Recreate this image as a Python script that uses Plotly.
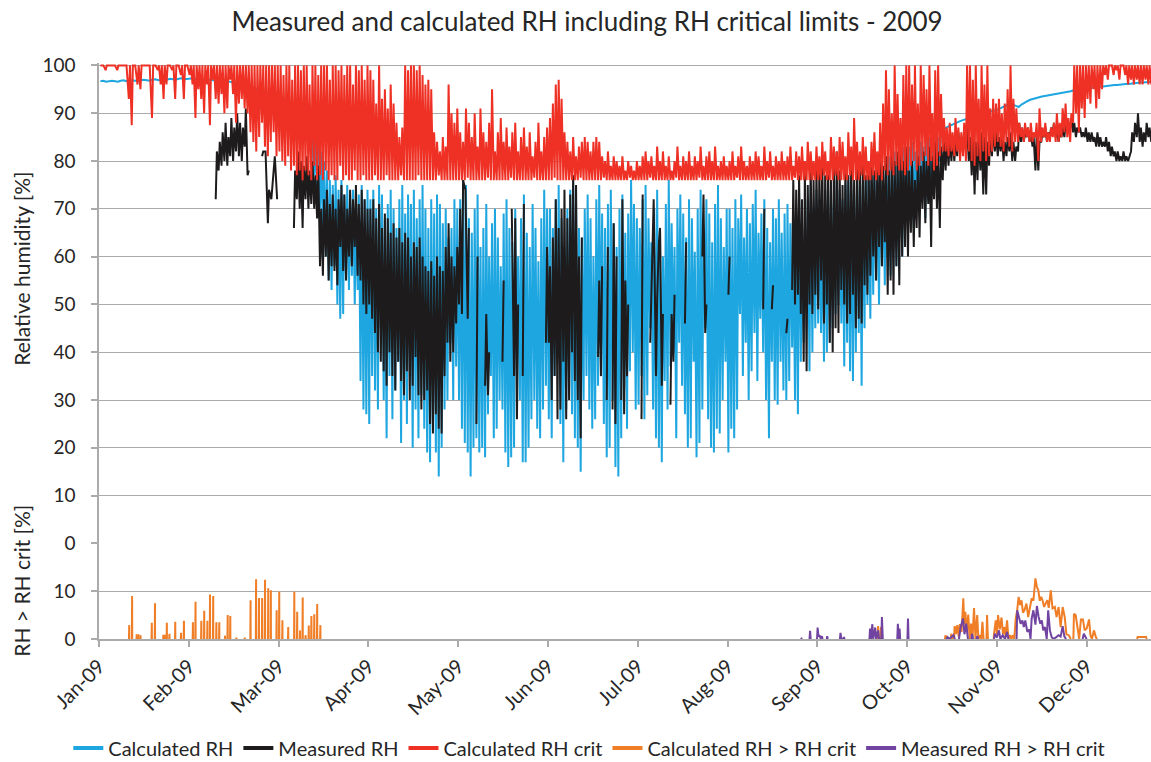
import datetime as dt
import plotly.graph_objects as go

YEAR_START = dt.datetime(2009, 1, 1)

# Tick labels: the original axis places one label every 31 days of data
month_labels = ["Jan-09", "Feb-09", "Mar-09", "Apr-09", "May-09", "Jun-09",
                "Jul-09", "Aug-09", "Sep-09", "Oct-09", "Nov-09", "Dec-09"]
tick_day_index = [0, 31, 62, 93, 124, 155, 186, 217, 248, 279, 310, 341]

# ---------------- Calculated RH (daily high / daily low, %) ----------------
calc_rh_high = [
    96.7,96.8,96.6,96.7,96.8,96.7,96.6,96.8,96.9,96.7,96.8,96.9,96.8,96.7,96.9,97.0,96.9,96.8,97.0,97.1,96.9,97.0,97.1,97.0,97.2,97.1,97.0,97.2,97.3,97.1,97.2,
    97.2,97.3,97.1,97.2,97.0,97.1,96.9,97.0,96.9,96.8,96.9,96.7,96.6,96.7,96.5,96.4,96.3,96.2,96.0,95.9,95.7,95.5,95.3,95.1,94.8,94.6,94.3,94.0,93.7,93.3,93.0,
    92.7,92.3,92.0,91.8,91.5,91.0,90.6,90.2,89.6,88,87,86,85,84,82,80,78,76,75,77,74,76,73,75,72,74,70,73,75,72,74,
    72,74,70,75,73,68,71,74,70,66,72,75,69,73,71,74,68,72,75,70,66,72,69,73,71,67,70,64,66,72,70,
    72,76,75,68,65,70,73,62,66,71,60,67,70,64,58,69,72,66,63,70,60,68,73,65,62,71,66,59,68,74,70,
    70,66,72,75,68,62,70,74,76,71,66,64,70,73,68,60,72,75,69,66,71,74,67,62,70,73,65,69,76,71,68,
    66,72,75,68,63,70,74,65,60,71,76,67,62,70,73,69,64,72,68,61,70,74,66,72,69,63,71,75,68,62,70,
    70,66,72,68,73,64,70,67,71,74,65,69,72,66,63,70,68,72,65,69,71,67,64,70,73,68,66,72,75,70,74,
    72,70,74,73,75,71,76,74,72,75,77,74,73,76,78,75,77,79,76,78,80,78,77,80,81,79,82,80,81,83,82,
    83,84,82,85,84,83,86,85,84,86,85,86,86.5,87,87.3,87.6,87.9,88.1,88.4,88.6,88.8,89.0,89.2,89.4,89.6,89.8,89.9,90.1,90.3,90.5,90.6,
    90.8,91.1,91.4,91.7,92.0,91.8,91.5,91.3,91.8,92.2,92.5,92.8,93.0,93.2,93.4,93.5,93.6,93.7,93.8,94.0,94.1,94.2,94.3,94.4,94.5,94.6,94.8,94.9,95.0,95.1,95.1,
    95.2,95.3,95.3,95.4,95.5,95.6,95.6,95.7,95.8,95.9,95.9,96.0,96.0,96.1,96.1,96.2,96.3,96.3,96.4,96.4,96.5,96.5,96.6,96.6,
]
N = None
calc_rh_low = [
    N,N,N,N,N,N,N,N,N,N,N,N,N,N,N,N,N,N,N,N,N,N,N,N,N,N,N,N,N,N,N,
    N,N,N,N,N,N,N,N,N,N,N,N,N,N,N,N,N,N,N,N,N,N,N,N,N,N,N,N,N,N,N,
    N,N,N,N,N,N,N,N,N,85,82,80,77,74,70,66,60,55,53,58,50,47,48,55,53,56,50,53,34,28,27,
    25,35,32,28,45,30,22,35,26,32,38,21,30,25,36,20,28,22,31,24,19,17,25,19,14,20,28,30,42,30,37,
    30,24,21,19,14,20,22,19,20,18,27,35,22,24,30,28,19,16,18,20,35,30,17,17,20,26,30,24,22,28,33,
    26,22,35,40,25,17,28,32,27,22,20,15,30,35,28,24,26,33,38,25,18,20,30,16,14,22,32,24,36,40,28,
    29,35,26,31,45,28,22,20,17,34,28,37,40,22,42,33,27,20,22,38,18,21,28,45,26,20,19,24,23,30,38,
    19,24,22,28,48,35,42,30,36,44,34,47,40,30,22,38,30,29,38,32,30,34,41,30,27,38,42,50,36,40,45,
    46,44,38,40,42,45,48,50,46,37,42,36,34,40,44,33,45,50,47,52,55,50,58,54,60,56,62,58,64,60,66,
    70,75,66,72,70,74,68,72,75,73,78,80,N,N,N,N,N,N,N,N,N,N,N,N,N,N,N,N,N,N,N,
    N,N,N,N,N,N,N,N,N,N,N,N,N,N,N,N,N,N,N,N,N,N,N,N,N,N,N,N,N,N,N,
    N,N,N,N,N,N,N,N,N,N,N,N,N,N,N,N,N,N,N,N,N,N,N,N,
]

# ---------------- Measured RH (daily high / daily low, %; None = no data) ----------------
meas_rh_high = [
    N,N,N,N,N,N,N,N,N,N,N,N,N,N,N,N,N,N,N,N,N,N,N,N,N,N,N,N,N,N,N,
    N,N,N,N,N,N,N,N,N,82,84,86,88,85,89,87,90,88,87,91,78,N,N,N,N,82,82,74,72,81,72,
    N,N,N,N,N,78,82,80,79,81,78,80,77,79,70,72,74,71,73,70,72,75,73,70,74,72,75,71,74,72,70,
    70,72,68,71,66,69,68,65,67,64,66,63,65,64,60,63,62,64,60,58,57,59,56,60,58,57,62,67,60,58,62,
    70,76,74,66,N,N,60,N,N,48,40,N,N,N,N,55,N,N,70,68,50,N,71,N,N,N,N,N,N,N,62,
    58,64,72,66,70,74,68,73,77,75,60,64,N,N,N,N,N,55,58,N,62,N,67,60,N,72,55,50,N,N,N,
    N,73,N,N,51,72,51,66,48,N,N,48,52,N,N,N,63,N,N,N,N,N,73,50,N,N,N,N,N,N,N,
    60,N,N,N,N,N,N,N,N,N,N,N,70,N,N,54,N,N,N,N,47,N,76,74,77,72,78,75,80,76,79,
    78,81,77,80,76,79,82,78,75,80,77,81,76,79,78,80,77,79,81,78,80,82,79,81,78,83,80,82,84,80,83,
    78,80,76,81,79,82,80,83,81,84,82,83,84,85,84,85,84,86,85,86,87,85,86,84,85,86,85,84,86,87,86,
    85,86,84,85,86,84,83,88,87,86,87,86,85,85,84,86,87,86,87,88,87,86,87,88,88,89,88,87,87,86,87,
    86,86,85,86,85,84,85,84,83,82,82,81,82,81,81,86,88,90,87,86,88,87,86,87,
]
meas_rh_low = [
    N,N,N,N,N,N,N,N,N,N,N,N,N,N,N,N,N,N,N,N,N,N,N,N,N,N,N,N,N,N,N,
    N,N,N,N,N,N,N,N,N,72,78,79,80,79,81,80,82,81,80,83,77,N,N,N,N,81,N,67,N,78,N,
    N,N,N,N,N,66,72,70,66,72,70,71,70,68,58,56,60,55,58,57,54,62,57,55,60,58,62,56,55,50,48,
    50,47,44,40,38,36,33,40,35,32,38,34,31,36,30,33,39,31,28,30,32,25,23,27,24,23,35,42,38,40,46,
    50,48,N,47,N,N,25,N,N,33,31,N,N,N,N,38,N,N,N,35,26,N,35,N,N,N,N,N,N,N,42,
    42,30,35,26,28,38,26,30,40,34,30,22,N,N,N,N,N,39,35,N,30,N,28,25,N,30,27,35,N,N,N,
    N,26,N,N,42,N,35,63,33,N,N,29,38,N,N,N,46,N,N,N,N,N,60,44,N,N,N,N,N,N,N,
    52,N,N,N,N,N,N,N,N,N,N,N,49,N,N,49,N,N,N,N,44,N,53,50,52,48,38,36,50,48,52,
    49,55,46,50,42,40,45,44,53,50,46,48,52,45,47,46,54,52,56,60,55,62,58,63,52,55,52,58,54,60,62,
    60,65,62,66,64,70,67,71,62,72,70,66,76,78,79,80,80,81,82,83,82,80,77,73,76,78,73,73,79,81,82,
    81,82,80,81,82,80,80,82,84,84,85,84,83,78,78,84,85,84,85,86,85,84,85,85,86,87,86,85,86,85,85,
    84,84,84,83,83,83,83,82,81,81,80,80,80,80,80,82,84,85,84,83,84,85,84,85,
]

# ---------------- Calculated RH crit (daily high / daily low, %) ----------------
crit_rh_high = [
    100,100,100,100,100,100,100,100,100,100,100,100,100,100,100,100,100,100,100,100,100,100,100,100,100,100,100,100,100,100,100,
    100,100,100,100,100,100,100,100,100,100,100,100,100,100,100,100,100,100,100,100,100,100,100,100,100,100,100,100,100,100,100,
    100,98,100,100,97,100,100,99,100,100,96,100,100,98,100,100,100,97,100,100,99,100,98,100,100,96,100,99,100,97,100,
    99,97,92,100,93,95,91,96,92,88,85,87,100,99,100,100,99,100,98,96,97,95,86,84,82,85,83,96,90,88,91,
    86,84,91,88,85,90,83,91,86,84,88,95,82,86,89,84,87,83,86,88,82,85,87,83,86,81,84,88,82,85,87,
    89,92,96,97,93,86,84,82,85,81,83,84,85,84,82,84,85,84,81,80,82,79,81,80,79,81,78,80,79,78,80,
    79,81,82,80,81,79,83,80,82,79,81,78,80,83,79,81,80,82,79,81,80,83,79,81,82,80,83,79,80,81,79,
    80,82,79,81,83,80,79,81,80,82,81,79,83,80,82,79,81,80,82,80,81,83,79,82,81,83,80,84,82,80,83,
    81,84,82,80,85,83,82,85,84,81,86,83,89,84,82,85,83,80,84,86,82,88,92,99,95,90,100,94,89,98,100,
    100,96,100,92,100,98,95,100,90,99,100,94,89,87,88,86,89,87,86,88,100,100,97,100,93,100,96,100,91,93,92,
    93,90,92,95,100,93,91,88,87,88,87,88,86,88,91,87,88,86,87,88,90,88,91,92,89,90,100,100,100,100,100,
    100,100,100,100,100,100,100,100,100,100,100,100,100,100,100,100,100,100,100,100,100,100,100,100,
]
crit_rh_low = [
    N,N,99,N,N,N,99,N,N,N,93,87.5,N,96,95,N,N,N,89,N,99,96,93,96,N,99,93,N,98,93,N,
    98,96,89,95,93,90,96,87.5,97,93,92,94,90,91,97,94,88,92,93,91,90,86,84,82,85,88,83,81,84,86,81,
    82,80,79,81,78,79,77,78,76,78,77,76,79,76,77,76,78,76,77,76,76,79,76,77,76,76,78,76,76,77,76,
    76,76,77,76,76,76,77,76,76,76,76,77,76,76,76,76,76,77,76,76,76,76,76,76,77,76,76,76,76,76,76,
    76,76,76,76.5,76,76,76,76,76,76,76.5,76,76,76,76,76,76,76,76.5,76,76,76,76,76,76,76,76.5,76,76,76,76,
    76,76,76.5,76,76,76,76,76,76,76,76,76.5,76,76,76,76,76,76,76,76.5,76,76,76,76,76,76,76,76,76.5,76,76,
    76,76,76,76,76.5,76,76,76,76,76,76,76,76,76.5,76,76,76,76,76,76,76,76.5,76,76,76,76,76,76,76,76,76,
    76,76,76,76.5,76,76,76,76,76,76,76,76,76,76,76.5,76,76,76,76,76,76,76,76,76.5,76,76,76,76,76,76,76,
    76,76,77,76,76,76,77,76,76,76,76,77,76,76,76,77,76,76,76,77,76,77,76,78,77,78,77,79,78,78,77,
    78,79,80,78,79,80,81,79,80,78,79,81,82,82,81,82,81,82,80,81,80,82,80,79,81,80,82,80,81,82,83,
    84,83,82,84,83,82,84,84,85,84,85,84,84,85,80,84,85,84,84,85,84,84,85,86,85,84,88,90,86,91,89,
    93,92,95,91,93,95,98,97,100,98,99,97,100,98,96,97,96,97,96,96,97,96,96,97,
]

# ---------------- Calculated RH > RH crit (lower panel, %) ----------------
# short winter exceedance spikes: day of year index and height
calc_exceed_spike_day = [10.4,11.4,13.0,13.6,14.3,18.2,19.3,22.2,22.7,23.4,24.3,26.3,28.3,29.3,32.4,
                         33.3,35.3,36.3,37.4,38.3,39.4,40.5,41.5,43.5,44.4,45.3,47.4,50.3,52.3,54.2,
                         55.2,56.3,57.3,58.4,59.3,61.3,62.2,63.3,65.3,67.4,68.4,69.4,70.3,71.3,72.4,
                         73.3,74.3,75.3,76.4]
calc_exceed_spike_value = [2.9,9.0,1.0,1.0,0.8,3.4,7.5,0.9,0.9,3.4,1.1,3.6,1.3,3.8,3.5,
                           7.8,3.8,5.9,3.8,9.3,9.0,3.5,3.5,0.7,5.0,4.8,0.3,0.3,8.1,12.5,
                           8.6,8.6,12.4,10.6,10.2,6.0,9.9,3.9,2.5,9.9,5.7,1.8,8.7,0.8,2.8,
                           4.8,5.2,7.3,2.9]
# autumn exceedance trace (day of year index, value; None = break)
calc_exceed_autumn_day = [268.8,269.0,269.3,N,269.8,270.0,270.2,N,
    292.0,292.3,292.6,N,294.0,294.3,294.6,N,
    295.2,295.4,295.8,296.3,296.8,297.2,297.8,298.4,298.7,299.1,299.6,300.1,300.6,301.1,301.6,302.1,302.6,303.2,303.6,304.2,304.6,305.0,305.4,N,
    306.4,306.6,306.9,N,
    308.9,309.0,309.6,310.0,310.4,311.0,311.6,312.1,312.6,313.0,313.5,314.0,314.5,315.0,315.5,316.0,316.5,317.0,317.5,318.0,318.5,319.0,319.5,320.2,320.8,
    321.5,322.0,322.6,323.3,323.8,324.3,324.8,325.3,325.8,326.3,326.8,327.4,327.9,328.6,329.2,330.0,330.6,331.3,332.0,332.7,333.4,334.0,334.8,335.5,N,
    336.4,336.6,337.2,337.9,338.4,339.0,339.7,340.3,341.0,341.8,342.3,342.8,343.5,344.2,344.6,N,
    358.4,358.6,359.5,360.5,361.5,361.7]
calc_exceed_autumn_value = [0,2.7,0,N,0,2.5,0,N,
    0,0.8,0,N,0,1.1,0,N,
    0,2.7,1.0,2.9,0.5,3.1,1.5,8.5,3.0,5.7,1.5,5.1,0,3.2,0.5,6.5,0,5.0,0,0.8,0,3.6,0,N,
    0,5.0,0,N,
    0,1.1,3.9,1.0,5.0,2.0,4.5,1.0,2.5,0.5,3.9,0,0.8,0,0.8,0,4.3,6.0,8.8,7.1,8.1,5.5,6.0,7.4,4.6,
    6.5,8.5,8.0,12.7,10.9,10.2,8.0,8.8,8.0,6.7,7.4,8.1,6.5,10.2,6.4,6.7,4.6,6.7,2.5,6.7,4.6,1.0,0.8,0,N,
    0,5.3,5.0,2.5,0,4.1,4.1,1.8,2.2,4.1,0.8,0,1.8,0.3,0,N,
    0,0.4,0.4,0.4,0.4,0]

# ---------------- Measured RH > RH crit (lower panel, %) ----------------
meas_exceed_day = [242.3,242.5,242.8,N,245.3,245.5,245.7,N,247.9,248.1,248.4,248.8,249.2,249.6,249.8,N,
    251.3,251.4,251.6,N,255.8,256.0,256.3,257.0,257.2,257.4,N,
    266.0,266.2,266.5,267.0,267.3,268.0,268.3,269.0,269.3,270.1,270.3,270.6,N,
    275.6,275.8,276.1,276.4,276.6,N,279.1,279.3,279.5,N,
    292.5,293.0,293.5,295.0,295.5,N,
    296.9,297.5,298.3,298.8,299.4,300.0,N,301.2,301.4,301.8,N,303.0,303.2,303.6,N,
    309.0,309.3,310.0,310.7,311.2,312.0,312.8,313.5,314.0,N,
    316.8,317.0,317.6,318.2,318.8,319.3,319.8,320.5,321.2,321.6,322.0,322.6,323.3,323.8,324.4,
    325.0,325.5,326.0,326.6,327.2,327.7,328.3,328.9,329.5,330.5,331.3,332.0,332.7,333.3,333.9,N,
    339.6,340.0,340.6,341.0]
meas_exceed_value = [0,0.1,0,N,0,1.7,0,N,0,2.4,0.5,0.8,0,0.6,0,N,
    0,0.6,0,N,0,1.3,0,0,0.4,0,N,
    0,2.2,0,3.1,0,2.4,0,1.8,0,0,4.6,0,N,
    0,3.2,0,2.2,0,N,0,4.3,0,N,
    0,0.4,0,0.8,0,N,
    0,2.5,4.3,1.0,3.2,0,N,0,1.1,0,N,0,0.6,0,N,
    0,1.1,0.3,1.8,0,0.8,0,1.5,0,N,
    0,6.0,4.6,3.2,3.9,2.5,3.9,1.5,2.0,0,4.3,6.0,3.0,6.9,4.6,
    3.2,3.9,1.8,2.5,0,6.0,1.8,0.4,0,0.4,0.8,0.5,2.7,0.5,0,N,
    0,1.1,0.4,0]

# ---------------- sanity checks ----------------
for name, arr in [("calc_rh_high", calc_rh_high), ("calc_rh_low", calc_rh_low),
                  ("meas_rh_high", meas_rh_high), ("meas_rh_low", meas_rh_low),
                  ("crit_rh_high", crit_rh_high), ("crit_rh_low", crit_rh_low)]:
    if len(arr) != 365:
        raise SystemExit(f"{name} has {len(arr)} values")
for a, b in [(calc_exceed_spike_day, calc_exceed_spike_value),
             (calc_exceed_autumn_day, calc_exceed_autumn_value),
             (meas_exceed_day, meas_exceed_value)]:
    if len(a) != len(b):
        raise SystemExit(f"length mismatch {len(a)} vs {len(b)}")


def to_date(d):
    return None if d is None else YEAR_START + dt.timedelta(days=d)


def daily_path(high, low):
    xs, ys = [], []
    for i, (h, l) in enumerate(zip(high, low)):
        if h is None:
            xs.append(None); ys.append(None)
            continue
        if l is None:
            xs.append(to_date(i + 0.5)); ys.append(h)
        else:
            xs.append(to_date(i + 0.3)); ys.append(l)
            xs.append(to_date(i + 0.7)); ys.append(h)
    return xs, ys


def spike_path(days, values):
    xs, ys = [], []
    for d, v in zip(days, values):
        xs += [to_date(d - 0.06), to_date(d - 0.03), to_date(d + 0.03), to_date(d + 0.06), None]
        ys += [0, v, v, 0, None]
    return xs, ys


BLUE = "#1EA6E0"
BLACK = "#1E1B1C"
RED = "#EE3124"
ORANGE = "#F07E26"
PURPLE = "#7044A0"
GRID = "#ABABAB"
TXT = "#262626"
FONT = "Lato"

series_names = ["Calculated RH", "Measured RH", "Calculated RH crit",
                "Calculated RH > RH crit", "Measured RH > RH crit"]
series_colors = [BLUE, BLACK, RED, ORANGE, PURPLE]

fig = go.Figure()

x, y = daily_path(calc_rh_high, calc_rh_low)
fig.add_trace(go.Scatter(x=x, y=y, mode="lines", name=series_names[0], showlegend=False,
                         line=dict(color=BLUE, width=2), xaxis="x", yaxis="y"))
x, y = daily_path(meas_rh_high, meas_rh_low)
fig.add_trace(go.Scatter(x=x, y=y, mode="lines", name=series_names[1], showlegend=False,
                         line=dict(color=BLACK, width=2), xaxis="x", yaxis="y"))
x, y = daily_path(crit_rh_high, crit_rh_low)
fig.add_trace(go.Scatter(x=x, y=y, mode="lines", name=series_names[2], showlegend=False,
                         line=dict(color=RED, width=2), xaxis="x", yaxis="y"))

xs1, ys1 = spike_path(calc_exceed_spike_day, calc_exceed_spike_value)
xs2 = [to_date(d) for d in calc_exceed_autumn_day]
fig.add_trace(go.Scatter(x=xs1 + xs2, y=ys1 + calc_exceed_autumn_value, mode="lines",
                         name=series_names[3], showlegend=False,
                         line=dict(color=ORANGE, width=2), xaxis="x", yaxis="y2"))
fig.add_trace(go.Scatter(x=[to_date(d) for d in meas_exceed_day], y=meas_exceed_value,
                         mode="lines", name=series_names[4], showlegend=False,
                         line=dict(color=PURPLE, width=2), xaxis="x", yaxis="y2"))

# legend entries with thicker key lines (as in the original legend)
for nm, col in zip(series_names, series_colors):
    fig.add_trace(go.Scatter(x=[None], y=[None], mode="lines", name=nm,
                             line=dict(color=col, width=4), xaxis="x", yaxis="y"))

lower_frac = 95.7 / 576.7

fig.update_layout(
    width=1151, height=762,
    margin=dict(l=99, r=0, t=63, b=123, autoexpand=False),
    paper_bgcolor="white", plot_bgcolor="white",
    font=dict(family=FONT, color=TXT, size=18),
    hovermode=False,
    title=dict(text="Measured and calculated RH including RH critical limits - 2009",
               x=0.51, xref="container", xanchor="center",
               y=1 - 22 / 762, yref="container", yanchor="middle",
               font=dict(family=FONT, size=26, color=TXT)),
    xaxis=dict(anchor="y2", type="date",
               range=[to_date(0), to_date(363.2)],
               tickvals=[to_date(d) for d in tick_day_index], ticktext=month_labels,
               tickangle=-45, showgrid=False, zeroline=False,
               showline=True, linecolor=GRID, linewidth=1.5,
               ticks="outside", ticklen=6, tickcolor=GRID, tickwidth=1.5,
               tickfont=dict(size=20, color=TXT)),
    yaxis=dict(domain=[lower_frac, 1], range=[0, 100.5],
               tickvals=[0, 10, 20, 30, 40, 50, 60, 70, 80, 90, 100],
               showgrid=True, gridcolor=GRID, gridwidth=1.3, zeroline=False,
               showline=True, linecolor=GRID, linewidth=1.5,
               ticks="outside", ticklen=6, tickcolor=GRID, tickwidth=1.5,
               ticklabelstandoff=12,
               tickfont=dict(size=19, color=TXT)),
    yaxis2=dict(domain=[0, lower_frac], range=[0, 20],
                tickvals=[0, 10],
                showgrid=True, gridcolor=GRID, gridwidth=1.3, zeroline=False,
                showline=True, linecolor=GRID, linewidth=1.5,
                ticks="outside", ticklen=6, tickcolor=GRID, tickwidth=1.5,
                ticklabelstandoff=12,
                tickfont=dict(size=19, color=TXT)),
    legend=dict(orientation="h", x=0.512, xref="container", xanchor="center",
                y=1 - 748 / 762, yref="container", yanchor="middle",
                font=dict(size=20, color=TXT), itemwidth=30,
                tracegroupgap=0, bgcolor="rgba(0,0,0,0)"),
    annotations=[
        dict(text="Relative humidity [%]", textangle=-90, showarrow=False,
             xref="paper", yref="paper", x=(22 - 99) / 1052, y=(639.3 - 269) / 576,
             xanchor="center", yanchor="middle", font=dict(size=21, color=TXT)),
        dict(text="RH > RH crit [%]", textangle=-90, showarrow=False,
             xref="paper", yref="paper", x=(22 - 99) / 1052, y=(639.3 - 581) / 576,
             xanchor="center", yanchor="middle", font=dict(size=21, color=TXT)),
    ],
)

fig.write_html("out.html", config={"displayModeBar": False},
               post_script="document.body.style.margin='0px';")
